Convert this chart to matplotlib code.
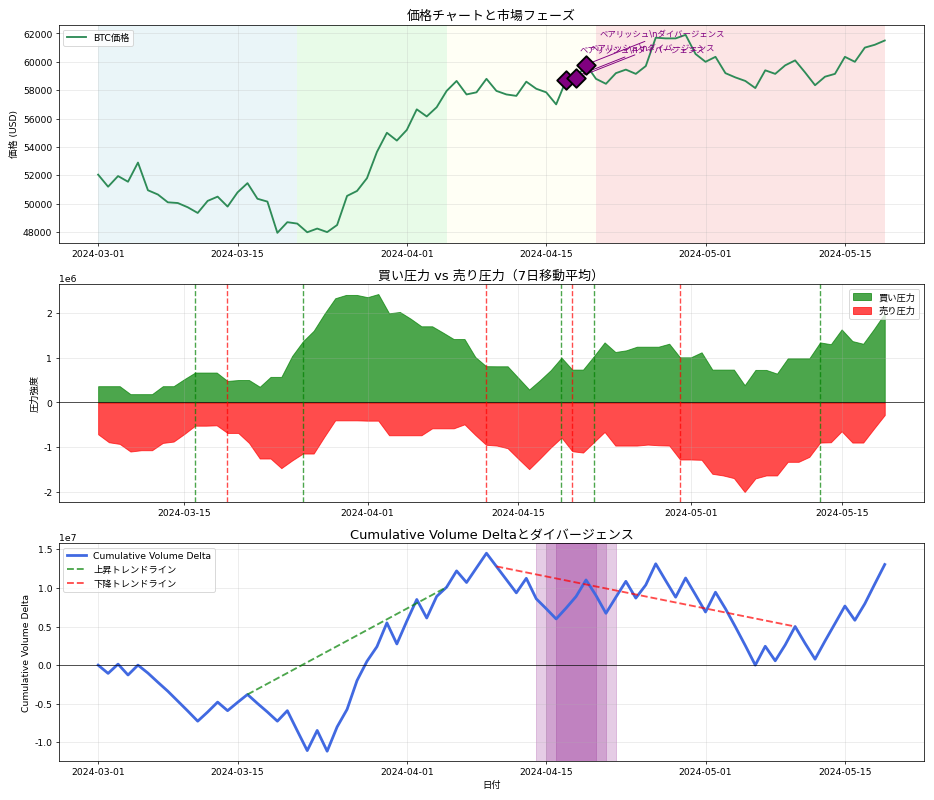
import numpy as np
import pandas as pd
import matplotlib
matplotlib.use('Agg')
import matplotlib.pyplot as plt

plt.rcParams['font.family'] = ['DejaVu Sans', 'Noto Sans CJK JP']
plt.rcParams['axes.unicode_minus'] = False

# Daily data 2024-03-01 .. 2024-05-19
dates = pd.date_range('2024-03-01', periods=80, freq='D')

price = [52050, 51200, 51950, 51550, 52900, 50950, 50650, 50100, 50050, 49750,
         49350, 50200, 50500, 49800, 50800, 51450, 50350, 50150, 47950, 48700,
         48600, 47990, 48250, 48000, 48500, 50550, 50900, 51800, 53650, 55000,
         54450, 55200, 56650, 56150, 56800, 57950, 58650, 57700, 57850, 58800,
         57950, 57700, 57600, 58600, 58100, 57850, 57000, 58700, 58850, 59800,
         58800, 58450, 59200, 59450, 59150, 59700, 61700, 61650, 61650, 61900,
         60550, 60000, 60350, 59200, 58900, 58650, 58150, 59400, 59150, 59750,
         60100, 59250, 58350, 58950, 59150, 60350, 60000, 61000, 61200, 61500]

# 7-day rolling pressure (starts on day 6)
buy_pressure = [0.363, 0.363, 0.363, 0.185, 0.185, 0.185, 0.363, 0.363, 0.52, 0.667,
                0.667, 0.667, 0.48, 0.5, 0.5, 0.35, 0.57, 0.57, 1.037, 1.363,
                1.6, 1.98, 2.326, 2.4, 2.4, 2.35, 2.42, 1.99, 2.02, 1.87,
                1.70, 1.70, 1.56, 1.415, 1.415, 1.015, 0.81, 0.807, 0.807, 0.548,
                0.289, 0.496, 0.72, 1.0, 0.733, 0.733, 1.03, 1.34, 1.126, 1.163,
                1.244, 1.244, 1.244, 1.311, 1.007, 1.007, 1.119, 0.733, 0.733, 0.733,
                0.385, 0.726, 0.726, 0.644, 0.985, 0.985, 0.985, 1.34, 1.30, 1.63,
                1.37, 1.31, 1.64, 1.99]
sell_pressure = [-0.711, -0.889, -0.926, -1.096, -1.067, -1.067, -0.904, -0.874, -0.704, -0.519,
                 -0.519, -0.511, -0.681, -0.681, -0.904, -1.252, -1.252, -1.467, -1.296, -1.141,
                 -1.141, -0.763, -0.4, -0.4, -0.4, -0.407, -0.407, -0.733, -0.733, -0.733,
                 -0.733, -0.578, -0.578, -0.578, -0.489, -0.726, -0.945, -0.963, -1.022, -1.259,
                 -1.489, -1.252, -1.007, -0.785, -1.089, -1.119, -0.889, -0.659, -0.963, -0.963,
                 -0.963, -0.941, -0.956, -0.963, -1.274, -1.274, -1.281, -1.593, -1.63, -1.689,
                 -2.0, -1.696, -1.63, -1.63, -1.326, -1.326, -1.215, -0.896, -0.889, -0.644,
                 -0.896, -0.896, -0.585, -0.281]
buy_pressure = np.array(buy_pressure) * 1e6
sell_pressure = np.array(sell_pressure) * 1e6
pressure_dates = dates[6:]

cvd = [0.0, -0.107, 0.013, -0.128, 0.0, -0.103, -0.222, -0.338, -0.466, -0.594,
       -0.726, -0.607, -0.479, -0.59, -0.483, -0.38, -0.496, -0.607, -0.726, -0.59,
       -0.85, -1.107, -0.846, -1.115, -0.8, -0.573, -0.2, 0.05, 0.239, 0.547,
       0.274, 0.57, 0.85, 0.61, 0.89, 1.01, 1.22, 1.07, 1.26, 1.449,
       1.278, 1.107, 0.936, 1.124, 0.859, 0.731, 0.598, 0.739, 0.889, 1.103,
       0.902, 0.671, 0.88, 1.085, 0.868, 1.038, 1.312, 1.094, 0.88, 1.128,
       0.91, 0.688, 0.944, 0.731, 0.496, 0.252, 0.0, 0.244, 0.056, 0.261,
       0.5, 0.282, 0.077, 0.312, 0.538, 0.765, 0.581, 0.795, 1.051, 1.303]
cvd = np.array(cvd) * 1e7

# market phases (start, end) and colours
phase_bounds = ['2024-03-01', '2024-03-21', '2024-04-05', '2024-04-20', '2024-05-19']
phase_colors = ['lightblue', 'lightgreen', 'lightyellow', 'lightcoral']
phase_alpha = [0.25, 0.2, 0.3, 0.2]

# bearish divergence days
div_idx = [47, 48, 49]

# signal lines in pressure chart
buy_signals = ['2024-03-16', '2024-03-26', '2024-04-19', '2024-04-22', '2024-05-13']
sell_signals = ['2024-03-19', '2024-04-12', '2024-04-20', '2024-04-30']

# trendline endpoints (index into cvd)
up_trend = [15, 35]
down_trend = [40, 70]

fig, axes = plt.subplots(3, 1, figsize=(14, 12))

# Price chart
ax = axes[0]
for i in range(len(phase_colors)):
    ax.axvspan(pd.Timestamp(phase_bounds[i]), pd.Timestamp(phase_bounds[i + 1]),
               color=phase_colors[i], alpha=phase_alpha[i], lw=0)
ax.plot(dates, price, color='seagreen', linewidth=2, label='BTC価格')
for i in div_idx:
    ax.scatter(dates[i], price[i], marker='D', s=200, color='purple',
               edgecolors='black', linewidths=2, zorder=5)
    ax.annotate('ベアリッシュ\\nダイバージェンス', xy=(dates[i], price[i]),
                xytext=(15, 30), textcoords='offset points', fontsize=9,
                color='purple', arrowprops=dict(arrowstyle='->', color='purple'))
ax.set_title('価格チャートと市場フェーズ', fontsize=14)
ax.set_ylabel('価格 (USD)')
ax.legend(loc='upper left')
ax.grid(True, alpha=0.3)

# Buy / sell pressure
ax = axes[1]
ax.fill_between(pressure_dates, 0, buy_pressure, color='green', alpha=0.7, label='買い圧力')
ax.fill_between(pressure_dates, 0, sell_pressure, color='red', alpha=0.7, label='売り圧力')
ax.axhline(0, color='black', linewidth=1, alpha=0.7)
for d in buy_signals:
    ax.axvline(pd.Timestamp(d), color='green', linestyle='--', alpha=0.7)
for d in sell_signals:
    ax.axvline(pd.Timestamp(d), color='red', linestyle='--', alpha=0.7)
ax.set_title('買い圧力 vs 売り圧力（7日移動平均）', fontsize=14)
ax.set_ylabel('圧力強度')
ax.legend(loc='upper right')
ax.grid(True, alpha=0.3)

# CVD
ax = axes[2]
ax.plot(dates, cvd, color='royalblue', linewidth=3, label='Cumulative Volume Delta')
ax.axhline(0, color='black', linewidth=1, alpha=0.7)
ax.plot([dates[up_trend[0]], dates[up_trend[1]]], [cvd[up_trend[0]], cvd[up_trend[1]]],
        color='green', linestyle='--', linewidth=2, alpha=0.7, label='上昇トレンドライン')
ax.plot([dates[down_trend[0]], dates[down_trend[1]]], [cvd[down_trend[0]], cvd[down_trend[1]]],
        color='red', linestyle='--', linewidth=2, alpha=0.7, label='下降トレンドライン')
for i in div_idx:
    ax.axvspan(dates[i] - pd.Timedelta(days=3), dates[i] + pd.Timedelta(days=3),
               color='purple', alpha=0.2)
ax.set_title('Cumulative Volume Deltaとダイバージェンス', fontsize=14)
ax.set_ylabel('Cumulative Volume Delta')
ax.set_xlabel('日付')
ax.legend(loc='upper left')
ax.grid(True, alpha=0.3)

plt.tight_layout()
plt.savefig('out.png', dpi=66.72)
